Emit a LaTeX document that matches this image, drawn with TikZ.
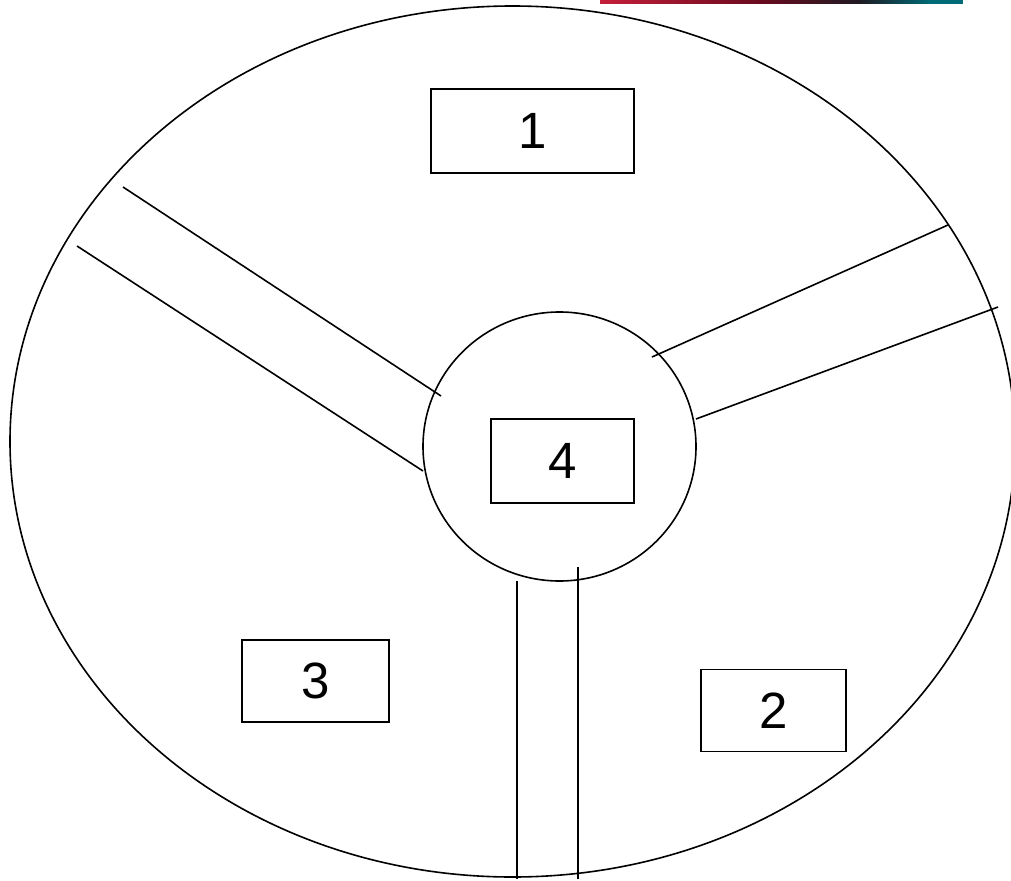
\documentclass[tikz,border=0pt]{standalone}
\usepackage{fontspec}
\setmainfont{Liberation Sans}
\usetikzlibrary{shapes.geometric}
\definecolor{stripred}{HTML}{C41E3A}
\definecolor{stripdark}{HTML}{6A0A1E}
\definecolor{stripblack}{HTML}{1E1A22}
\definecolor{stripteal}{HTML}{006A76}
\begin{document}
\begin{tikzpicture}[x=1pt,y=-1pt,
  lbl/.style={draw,line width=1.3pt,inner sep=0pt,font=\fontsize{51}{60}\selectfont},
  ring/.style={draw,ellipse,inner sep=0pt,line width=1.6pt},
  ln/.style={line width=1.6pt}]
\useasboundingbox (0,0) rectangle (1011,880);
\clip (0,0) rectangle (1011,880);
% top strip
\shade[left color=stripred, right color=stripdark] (600,0) rectangle (760,3.8);
\shade[left color=stripdark, right color=stripblack] (759.5,0) rectangle (860,3.8);
\shade[left color=stripblack, right color=stripteal] (859.5,0) rectangle (930,3.8);
\fill[stripteal] (929.5,0) rectangle (963,3.8);
% outer ellipse and hub
\node[ring,minimum width=1005pt,minimum height=871pt] (outer) at (512.5,441.5) {};
\node[ring,minimum width=273pt,minimum height=269pt] (hub) at (559.5,446.5) {};
% boxes
\node[lbl,minimum width=203pt,minimum height=84pt] (b1) at (532.5,131) {1};
\node[lbl,minimum width=145pt,minimum height=82pt] (b2) at (773.5,710.5) {2};
\node[lbl,minimum width=147pt,minimum height=82pt] (b3) at (315.5,681) {3};
\node[lbl,minimum width=143pt,minimum height=84pt] (b4) at (562.5,461) {4};
% spokes
\coordinate (a1) at (123,187); \coordinate (a2) at (441,396);
\coordinate (b1s) at (77,246); \coordinate (b2s) at (423,471);
\coordinate (c1) at (652,357); \coordinate (c2) at (948,225);
\coordinate (d1) at (696,419); \coordinate (d2) at (998,307);
\coordinate (e1) at (517,581); \coordinate (e2) at (517,879);
\coordinate (f1) at (578,567); \coordinate (f2) at (578,879);
\draw[ln] (a1) -- (a2);
\draw[ln] (b1s) -- (b2s);
\draw[ln] (c1) -- (c2);
\draw[ln] (d1) -- (d2);
\draw[ln] (e1) -- (e2);
\draw[ln] (f1) -- (f2);
\end{tikzpicture}
\end{document}
